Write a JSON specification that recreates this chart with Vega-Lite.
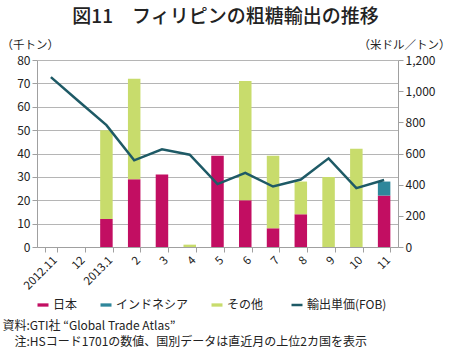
{
  "$schema": "https://vega.github.io/schema/vega-lite/v6.json",
  "width": 361,
  "height": 187,
  "autosize": "none",
  "padding": {"left": 37, "top": 60, "right": 52, "bottom": 104},
  "background": "white",
  "config": {
    "font": "Noto Sans CJK JP",
    "view": {"stroke": null},
    "axis": {"labelColor": "#222", "titleColor": "#222", "domainColor": "#a0a0a0", "tickColor": "#a0a0a0", "labelFontSize": 12, "titleFontWeight": "normal", "titleFontSize": 11.5}
  },
  "title": {"text": "図11　フィリピンの粗糖輸出の推移", "fontSize": 19, "fontWeight": 500, "color": "#222", "anchor": "middle", "dx": 8, "offset": 12},
  "datasets": {
    "bars": [
      {"m": "2013.1", "s": "日本", "v": 12},
      {"m": "2013.1", "s": "その他", "v": 38},
      {"m": "2", "s": "日本", "v": 29},
      {"m": "2", "s": "その他", "v": 43},
      {"m": "3", "s": "日本", "v": 31},
      {"m": "4", "s": "その他", "v": 1},
      {"m": "5", "s": "日本", "v": 39},
      {"m": "6", "s": "日本", "v": 20},
      {"m": "6", "s": "その他", "v": 51},
      {"m": "7", "s": "日本", "v": 8},
      {"m": "7", "s": "その他", "v": 31},
      {"m": "8", "s": "日本", "v": 14},
      {"m": "8", "s": "その他", "v": 14},
      {"m": "9", "s": "その他", "v": 30},
      {"m": "10", "s": "その他", "v": 42},
      {"m": "11", "s": "日本", "v": 22},
      {"m": "11", "s": "インドネシア", "v": 6}
    ],
    "price": [
      {"m": "2012.11", "p": 1090},
      {"m": "12", "p": 935},
      {"m": "2013.1", "p": 782},
      {"m": "2", "p": 556},
      {"m": "3", "p": 627},
      {"m": "4", "p": 592},
      {"m": "5", "p": 404},
      {"m": "6", "p": 476},
      {"m": "7", "p": 388},
      {"m": "8", "p": 433},
      {"m": "9", "p": 569},
      {"m": "10", "p": 378},
      {"m": "11", "p": 430}
    ]
  },
  "encoding": {
    "x": {
      "field": "m", "type": "nominal",
      "sort": ["2012.11", "12", "2013.1", "2", "3", "4", "5", "6", "7", "8", "9", "10", "11"],
      "scale": {"domain": ["2012.11", "12", "2013.1", "2", "3", "4", "5", "6", "7", "8", "9", "10", "11"], "paddingInner": 0.55, "paddingOuter": 0.275},
      "axis": {
        "labelAngle": -45, "labelFontSize": 11.5, "tickBand": "extent", "tickSize": 5,
        "title": ["資料:GTI社 “Global Trade Atlas”", "\u200b\u3000注:HSコード1701の数値、国別データは直近月の上位2カ国を表示"],
        "titleAnchor": "start", "titleAlign": "left", "titleX": -35, "titleY": 73, "titleBaseline": "top",
        "titleFontSize": 12, "titleLineHeight": 16
      }
    }
  },
  "layer": [
    {
      "data": {"name": "bars"},
      "mark": {"type": "bar"},
      "encoding": {
        "y": {
          "field": "v", "type": "quantitative", "stack": "zero",
          "scale": {"domain": [0, 80], "nice": false},
          "axis": {"values": [0, 10, 20, 30, 40, 50, 60, 70, 80], "grid": true, "gridColor": "#b5b5b5", "tickSize": 5,
            "title": "（千トン）", "titleAngle": 0, "titleAlign": "left", "titleX": -36, "titleY": -15, "titleBaseline": "middle"}
        },
        "color": {
          "field": "s", "type": "nominal",
          "sort": ["日本", "インドネシア", "その他"],
          "scale": {"domain": ["日本", "インドネシア", "その他", "輸出単価(FOB)"], "range": ["#c20e62", "#2f879b", "#c8dc6c", "#1e5a66"]},
          "legend": {
            "orient": "none", "legendX": 0, "legendY": 239, "direction": "horizontal", "title": null,
            "symbolSize": 121, "labelFontSize": 12, "labelColor": "#222", "columnPadding": 22, "labelOffset": 4,
            "encode": {
              "symbols": {
                "update": {
                  "shape": {"signal": "datum.value === '輸出単価(FOB)' ? 'M-1,0H1' : 'M-1,-0.3H1V0.3H-1Z'"},
                  "stroke": {"scale": "color", "field": "value"},
                  "strokeWidth": {"signal": "datum.value === '輸出単価(FOB)' ? 2.5 : 0"}
                }
              }
            }
          }
        },
        "order": {"field": "s", "sort": "descending"}
      }
    },
    {
      "data": {"name": "price"},
      "mark": {"type": "line", "strokeWidth": 2.5},
      "encoding": {
        "y": {
          "field": "p", "type": "quantitative",
          "scale": {"domain": [0, 1200], "nice": false},
          "axis": {"orient": "right", "values": [0, 200, 400, 600, 800, 1000, 1200], "format": ",.0f", "grid": false, "tickSize": 5,
            "title": "（米ドル／トン）", "titleAngle": 0, "titleAlign": "right", "titleX": 52, "titleY": -15, "titleBaseline": "middle"}
        },
        "color": {"datum": "輸出単価(FOB)"}
      }
    }
  ],
  "resolve": {"scale": {"y": "independent"}}
}
